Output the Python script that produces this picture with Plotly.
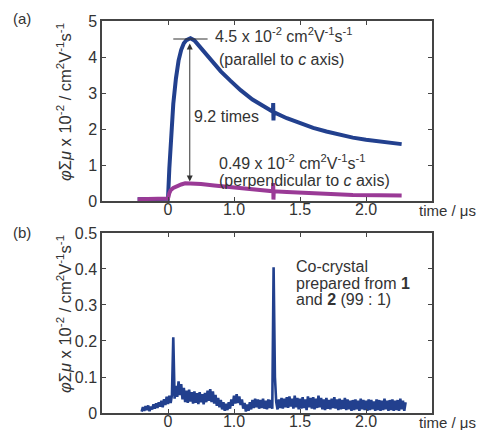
import plotly.graph_objects as go

# ---------------- data ----------------
# panel (a): transient conductivity, parallel (blue) and perpendicular (purple) to c axis
par_t = [-0.23, -0.10, 0.00, 0.01, 0.02, 0.03, 0.04, 0.06, 0.08, 0.10, 0.12, 0.14, 0.17,
         0.20, 0.25, 0.30, 0.35, 0.40, 0.47, 0.55, 0.64, 0.72, 0.795, 0.797, 0.799, 0.801,
         0.90, 1.00, 1.10, 1.20, 1.30, 1.40, 1.50, 1.60, 1.70, 1.77]
par_v = [0.05, 0.05, 0.06, 0.90, 1.60, 2.20, 2.70, 3.40, 3.90, 4.20, 4.38, 4.47, 4.52,
         4.46, 4.25, 4.02, 3.80, 3.60, 3.35, 3.08, 2.82, 2.63, 2.48, 2.72, 2.24, 2.47,
         2.30, 2.15, 2.03, 1.93, 1.84, 1.76, 1.70, 1.65, 1.61, 1.58]

perp_t = [-0.23, -0.10, 0.00, 0.01, 0.02, 0.04, 0.07, 0.10, 0.13, 0.18, 0.25, 0.35, 0.47,
          0.60, 0.70, 0.795, 0.797, 0.799, 0.801, 0.90, 1.00, 1.20, 1.40, 1.60, 1.77]
perp_v = [0.05, 0.06, 0.07, 0.22, 0.30, 0.36, 0.42, 0.46, 0.49, 0.49, 0.47, 0.43, 0.38,
          0.33, 0.30, 0.27, 0.50, 0.04, 0.27, 0.25, 0.23, 0.20, 0.17, 0.16, 0.15]

# panel (b): co-crystal trace, sampled every 0.01 us from -0.20 us
cc_t0 = -0.20
cc_dt = 0.01
cc_v = [
    0.004, 0.016, 0.006, 0.019, 0.008, 0.021, 0.005, 0.018, 0.010, 0.024,
    0.012, 0.027, 0.014, 0.030, 0.018, 0.034, 0.016, 0.038, 0.022, 0.045,
    0.025, 0.048, 0.028, 0.050, 0.210, 0.040, 0.075, 0.045, 0.088, 0.050,
    0.080, 0.038, 0.070, 0.030, 0.062, 0.028, 0.065, 0.032, 0.058, 0.026,
    0.060, 0.028, 0.055, 0.025, 0.058, 0.030, 0.052, 0.024, 0.056, 0.030,
    0.062, 0.034, 0.066, 0.030, 0.060, 0.026, 0.050, 0.020, 0.042, 0.016,
    0.036, 0.010, 0.030, 0.006, 0.026, 0.008, 0.030, 0.012, 0.038, 0.020,
    0.048, 0.026, 0.052, 0.028, 0.046, 0.022, 0.038, 0.012, 0.028, 0.004,
    0.024, 0.006, 0.030, 0.010, 0.036, 0.014, 0.040, 0.016, 0.038, 0.012,
    0.036, 0.014, 0.040, 0.012, 0.034, 0.010, 0.038, 0.014, 0.036, 0.012,
    0.405, 0.100, 0.030, 0.010, 0.038, 0.014, 0.042, 0.012, 0.040, 0.016,
    0.044, 0.014, 0.046, 0.018, 0.040, 0.012, 0.048, 0.016, 0.042, 0.010,
    0.040, 0.012, 0.044, 0.014, 0.038, 0.008, 0.046, 0.016, 0.042, 0.012,
    0.044, 0.010, 0.040, 0.014, 0.048, 0.016, 0.042, 0.010, 0.038, 0.008,
    0.042, 0.012, 0.036, 0.010, 0.040, 0.014, 0.044, 0.012, 0.038, 0.008,
    0.040, 0.010, 0.036, 0.012, 0.042, 0.008, 0.038, 0.010, 0.034, 0.006,
    0.036, 0.008, 0.038, 0.010, 0.034, 0.006, 0.040, 0.010, 0.036, 0.008,
    0.034, 0.006, 0.038, 0.008, 0.036, 0.010, 0.032, 0.006, 0.038, 0.008,
    0.036, 0.006, 0.034, 0.008, 0.040, 0.010, 0.034, 0.006, 0.036, 0.008,
    0.038, 0.006, 0.034, 0.008, 0.036, 0.006, 0.040, 0.010, 0.034, 0.006, 0.030,
]
cc_t = [round(cc_t0 + cc_dt * i, 3) for i in range(len(cc_v))]

x_tickvals = [0, 0.5, 1.0, 1.5]
x_ticktext = ["0", "1.0", "1.5", "2.0"]
ya_tickvals = [0, 1, 2, 3, 4, 5]
ya_ticktext = ["0", "1", "2", "3", "4", "5"]
yb_tickvals = [0, 0.1, 0.2, 0.3, 0.4, 0.5]
yb_ticktext = ["0", "0.1", "0.2", "0.3", "0.4", "0.5"]

peak_par = 4.5
peak_perp = 0.49

# ---------------- style ----------------
FONT = "Liberation Sans, Arial, sans-serif"
TXT = "#333333"
AX = "#444444"
BLUE = "#22408e"
PURPLE = "#9a3a96"

fig = go.Figure()
fig.add_trace(go.Scatter(x=par_t, y=par_v, mode="lines", line=dict(color=BLUE, width=4),
                         xaxis="x", yaxis="y", showlegend=False))
fig.add_trace(go.Scatter(x=perp_t, y=perp_v, mode="lines", line=dict(color=PURPLE, width=4),
                         xaxis="x", yaxis="y", showlegend=False))
fig.add_trace(go.Scatter(x=cc_t, y=cc_v, mode="lines", line=dict(color=BLUE, width=2.6),
                         xaxis="x2", yaxis="y2", showlegend=False))

axis_common = dict(showline=True, mirror="ticks", linecolor=AX, linewidth=1.5,
                   ticks="inside", ticklen=4, tickwidth=1.3, tickcolor=AX,
                   showgrid=False, zeroline=False, automargin=False,
                   tickfont=dict(family=FONT, size=16, color=TXT))

fig.update_layout(
    width=481, height=430,
    margin=dict(l=102, r=49, t=21, b=17),
    paper_bgcolor="white", plot_bgcolor="white",
    font=dict(family=FONT, color=TXT, size=16),
    xaxis=dict(domain=[0, 1], range=[-0.5, 2.0], anchor="y", ticklabelstandoff=-7,
               tickvals=x_tickvals, ticktext=x_ticktext, **axis_common),
    yaxis=dict(domain=[0.5408, 1.0], range=[0, 5], anchor="x",
               tickvals=ya_tickvals, ticktext=ya_ticktext, **axis_common),
    xaxis2=dict(domain=[0, 1], range=[-0.5, 2.0], anchor="y2", ticklabelstandoff=-7,
                tickvals=x_tickvals, ticktext=x_ticktext, **axis_common),
    yaxis2=dict(domain=[0, 0.4592], range=[0, 0.5], anchor="x2",
                tickvals=yb_tickvals, ticktext=yb_ticktext, **axis_common),
)

ytitle = "<i>φ</i>Σ<i>μ</i> x 10<sup>-2</sup> / cm<sup>2</sup>V<sup>-1</sup>s<sup>-1</sup>"
unit = " x 10<sup>-2</sup> cm<sup>2</sup>V<sup>-1</sup>s<sup>-1</sup>"

ann = []
# y-axis titles
ann.append(dict(text=ytitle, xref="paper", yref="paper", x=0, xshift=-38,
                y=1 - (102 - 21) / 392, textangle=-90, showarrow=False,
                font=dict(size=16.5), xanchor="center", yanchor="middle"))
ann.append(dict(text=ytitle, xref="paper", yref="paper", x=0, xshift=-38,
                y=(413 - 314) / 392, textangle=-90, showarrow=False,
                font=dict(size=16.5), xanchor="center", yanchor="middle"))
# panel labels
ann.append(dict(text="(a)", xref="paper", yref="paper", x=0, xshift=-80, y=1.0, yshift=3,
                showarrow=False, xanchor="center", yanchor="middle", font=dict(size=15)))
ann.append(dict(text="(b)", xref="paper", yref="paper", x=0, xshift=-80, y=0.4592, yshift=0,
                showarrow=False, xanchor="center", yanchor="middle", font=dict(size=15)))
# time labels
for yv in [0.5408, 0.0]:
    ann.append(dict(text="time / μs", xref="paper", yref="paper", x=(478 - 102) / 330, y=yv,
                    yshift=-9, showarrow=False, xanchor="right", yanchor="middle",
                    font=dict(size=15)))
# panel (a) texts
ann.append(dict(text=f"{peak_par}" + unit, xref="x", yref="y", x=0.34, y=4.62,
                showarrow=False, xanchor="left", yanchor="middle"))
ann.append(dict(text="(parallel to <i>c</i> axis)", xref="x", yref="y", x=0.37, y=3.92,
                showarrow=False, xanchor="left", yanchor="middle"))
ann.append(dict(text="9.2 times", xref="x", yref="y", x=0.18, y=2.35,
                showarrow=False, xanchor="left", yanchor="middle"))
ann.append(dict(text=f"{peak_perp}" + unit, xref="x", yref="y", x=0.37, y=1.08,
                showarrow=False, xanchor="left", yanchor="middle"))
ann.append(dict(text="(perpendicular to <i>c</i> axis)", xref="x", yref="y", x=0.37, y=0.58,
                showarrow=False, xanchor="left", yanchor="middle"))
# double arrow
ann.append(dict(text="", xref="x", yref="y", axref="x", ayref="y",
                x=0.165, y=peak_perp + 0.05, ax=0.165, ay=peak_par - 0.08,
                showarrow=True, arrowside="end+start", arrowhead=2, arrowsize=1.2,
                arrowwidth=1, arrowcolor=TXT))
# panel (b) text (three lines, tight spacing)
cc_lines = ["Co-crystal", "prepared from <b>1</b>", "and <b>2</b> (99 : 1)"]
cc_line_y = [0.408, 0.361, 0.314]
for txt, yv in zip(cc_lines, cc_line_y):
    ann.append(dict(text=txt, xref="x2", yref="y2", x=0.955, y=yv, showarrow=False,
                    xanchor="left", yanchor="middle", align="left", font=dict(size=16)))
fig.update_layout(annotations=ann)

fig.add_shape(type="line", xref="x", yref="y", x0=0.04, x1=0.30, y0=peak_par, y1=peak_par,
              line=dict(color=TXT, width=1.2))

# remove the browser's default 8 px body margin so the figure fills the 481x430 window
fig.write_html("out.html",
               config={"displayModeBar": False},
               post_script="document.body.style.margin='0';document.body.style.overflow='hidden';")
